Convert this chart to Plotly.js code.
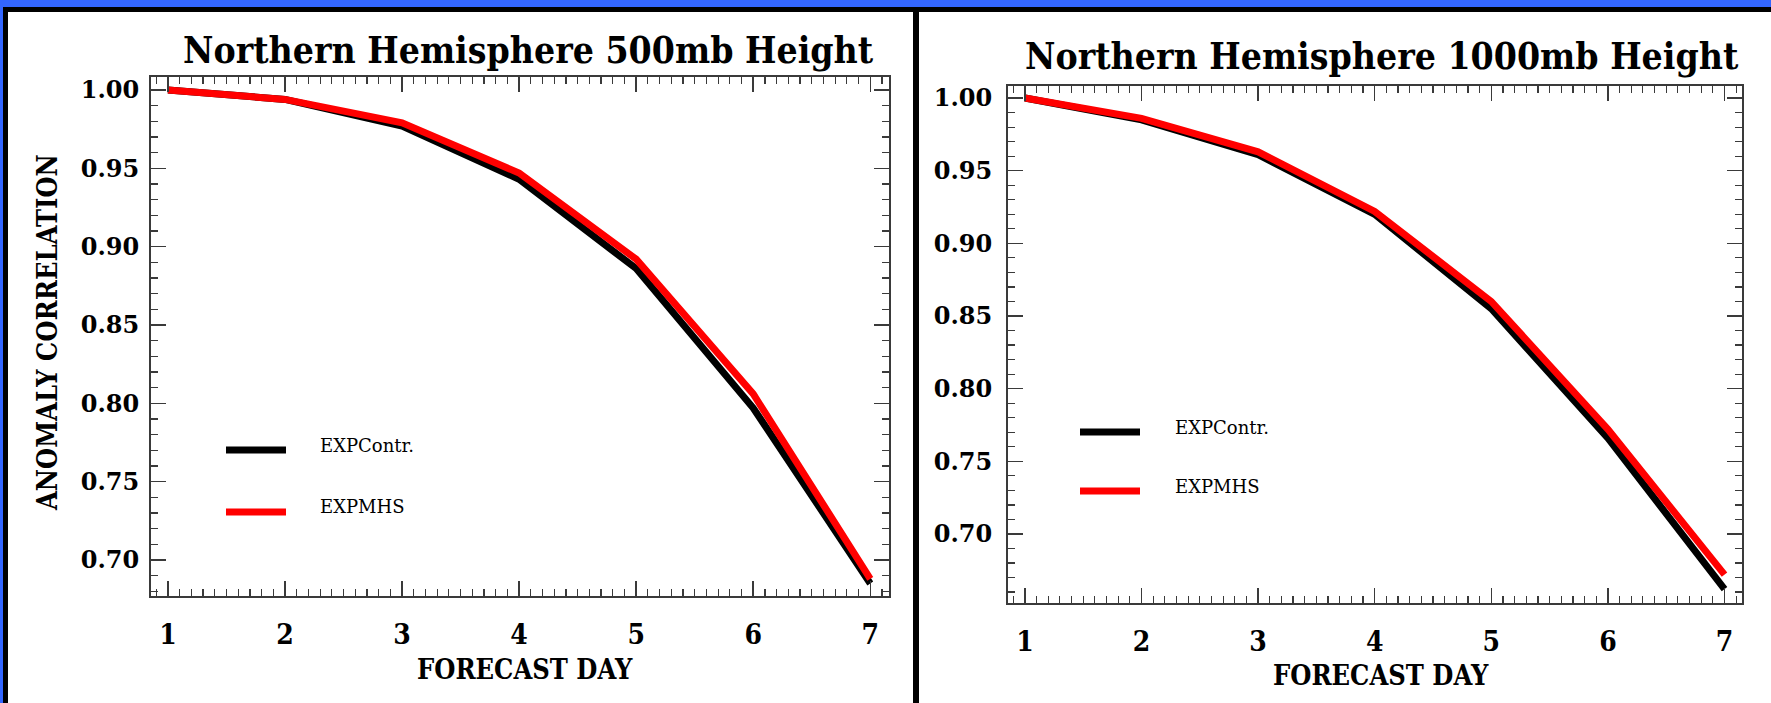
<!DOCTYPE html>
<html>
<head>
<meta charset="utf-8">
<script src="https://cdn.plot.ly/plotly-3.0.1.min.js"></script>
<style>
  html, body { margin: 0; padding: 0; background: #3366ff; }
  #chart { width: 1771px; height: 703px; }
</style>
</head>
<body>
<div id="chart"></div>
<script>
// ---- data ----
const forecastDays = [1, 2, 3, 4, 5, 6, 7];
const nh500Contr = [1.000, 0.994, 0.977, 0.943, 0.886, 0.797, 0.685];
const nh500MHS   = [1.000, 0.994, 0.979, 0.947, 0.892, 0.806, 0.688];
const nh1000Contr = [1.000, 0.985, 0.961, 0.920, 0.855, 0.766, 0.662];
const nh1000MHS   = [1.000, 0.986, 0.963, 0.922, 0.860, 0.772, 0.672];
const seriesNames = ['EXPContr.', 'EXPMHS'];
const panelTitles = ['Northern Hemisphere 500mb Height', 'Northern Hemisphere 1000mb Height'];
const xTickVals = [1, 2, 3, 4, 5, 6, 7];
const yTickVals = [0.70, 0.75, 0.80, 0.85, 0.90, 0.95, 1.00];
const yTickText = ['0.70', '0.75', '0.80', '0.85', '0.90', '0.95', '1.00'];

// ---- layout helpers ----
const W = 1771, H = 703;
const px = x => x / W;
const py = y => 1 - y / H;

const BLACK = '#000000', RED = '#ff0000', AXC = '#3a3a3a';
const serifC = '"DejaVu Serif Condensed", "DejaVu Serif", serif';
const serif = '"DejaVu Serif", serif';

function xAxis(domain, range) {
  return {
    domain: domain, range: range, tickvals: xTickVals, ticktext: xTickVals.map(String),
    ticks: 'inside', ticklen: 15, tickwidth: 1.5, tickcolor: AXC,
    showline: true, linecolor: AXC, linewidth: 2, mirror: 'allticks',
    minor: { dtick: 0.1, tick0: 1, ticks: 'inside', ticklen: 7, tickwidth: 1.2, tickcolor: AXC },
    showgrid: false, zeroline: false, fixedrange: true,
    ticklabelstandoff: 12,
    tickfont: { family: serifC, size: 28, color: BLACK, weight: 'bold' }
  };
}
function yAxis(domain, range, standoff) {
  return {
    domain: domain, range: range, tickvals: yTickVals, ticktext: yTickText,
    ticks: 'inside', ticklen: 15, tickwidth: 1.5, tickcolor: AXC,
    showline: true, linecolor: AXC, linewidth: 2, mirror: 'allticks',
    minor: { dtick: 0.01, tick0: 0.7, ticks: 'inside', ticklen: 7, tickwidth: 1.2, tickcolor: AXC },
    showgrid: false, zeroline: false, fixedrange: true,
    ticklabelstandoff: standoff,
    tickfont: { family: serif, size: 24, color: BLACK, weight: 'bold' }
  };
}

const traces = [
  { x: forecastDays, y: nh500Contr, name: seriesNames[0], xaxis: 'x', yaxis: 'y',
    mode: 'lines', line: { color: BLACK, width: 7 }, showlegend: false, hoverinfo: 'skip' },
  { x: forecastDays, y: nh500MHS, name: seriesNames[1], xaxis: 'x', yaxis: 'y',
    mode: 'lines', line: { color: RED, width: 7 }, showlegend: false, hoverinfo: 'skip' },
  { x: forecastDays, y: nh1000Contr, name: seriesNames[0], xaxis: 'x2', yaxis: 'y2',
    mode: 'lines', line: { color: BLACK, width: 7 }, showlegend: false, hoverinfo: 'skip' },
  { x: forecastDays, y: nh1000MHS, name: seriesNames[1], xaxis: 'x2', yaxis: 'y2',
    mode: 'lines', line: { color: RED, width: 7 }, showlegend: false, hoverinfo: 'skip' }
];

const shapes = [
  // black frame and white panels
  { type: 'rect', xref: 'paper', yref: 'paper', layer: 'below', x0: px(3), x1: px(W), y0: py(H), y1: py(7),
    fillcolor: BLACK, line: { width: 0 } },
  { type: 'rect', xref: 'paper', yref: 'paper', layer: 'below', x0: px(8), x1: px(913), y0: py(H), y1: py(12),
    fillcolor: '#ffffff', line: { width: 0 } },
  { type: 'rect', xref: 'paper', yref: 'paper', layer: 'below', x0: px(919), x1: px(W), y0: py(H), y1: py(12),
    fillcolor: '#ffffff', line: { width: 0 } },
  // legend samples, left panel
  { type: 'line', xref: 'paper', yref: 'paper', x0: px(226), x1: px(286), y0: py(450), y1: py(450),
    line: { color: BLACK, width: 7 } },
  { type: 'line', xref: 'paper', yref: 'paper', x0: px(226), x1: px(286), y0: py(512), y1: py(512),
    line: { color: RED, width: 7 } },
  // legend samples, right panel
  { type: 'line', xref: 'paper', yref: 'paper', x0: px(1080), x1: px(1140), y0: py(432), y1: py(432),
    line: { color: BLACK, width: 7 } },
  { type: 'line', xref: 'paper', yref: 'paper', x0: px(1080), x1: px(1140), y0: py(491), y1: py(491),
    line: { color: RED, width: 7 } }
];

const ann = (text, x, y, font, opts) => Object.assign({
  text: text, xref: 'paper', yref: 'paper', x: px(x), y: py(y),
  xanchor: 'center', yanchor: 'middle', showarrow: false, font: font
}, opts || {});

const titleFont = { family: serifC, size: 37, color: BLACK, weight: 'bold' };
const axTitleFont = { family: serifC, size: 27, color: BLACK, weight: 'bold' };
const legFont = { family: serif, size: 18, color: BLACK };

const annotations = [
  ann(panelTitles[0], 528, 50, titleFont),
  ann(panelTitles[1], 1382, 56, titleFont),
  ann('FORECAST DAY', 525, 669, axTitleFont),
  ann('FORECAST DAY', 1381, 675, axTitleFont),
  ann('ANOMALY CORRELATION', 48, 333, axTitleFont, { textangle: -90 }),
  ann(seriesNames[0], 318, 445, legFont, { xanchor: 'left' }),
  ann(seriesNames[1], 318, 507, legFont, { xanchor: 'left' }),
  ann(seriesNames[0], 1173, 427, legFont, { xanchor: 'left' }),
  ann(seriesNames[1], 1173, 486, legFont, { xanchor: 'left' })
];

const layout = {
  width: W, height: H,
  margin: { l: 0, r: 0, t: 0, b: 0, pad: 0 },
  paper_bgcolor: '#3366ff',
  plot_bgcolor: 'rgba(0,0,0,0)',
  showlegend: false,
  xaxis: xAxis([px(151), px(889)], [0.855, 7.16]),
  yaxis: yAxis([py(596), py(77)], [0.677, 1.0083], 5),
  xaxis2: Object.assign(xAxis([px(1008), px(1742)], [0.855, 7.15]), { anchor: 'y2' }),
  yaxis2: Object.assign(yAxis([py(603), py(86)], [0.6525, 1.0083], 9), { anchor: 'x2' }),
  shapes: shapes,
  annotations: annotations
};
layout.xaxis.anchor = 'y';
layout.yaxis.anchor = 'x';

Plotly.newPlot('chart', traces, layout, { staticPlot: true, displayModeBar: false });
</script>
</body>
</html>
